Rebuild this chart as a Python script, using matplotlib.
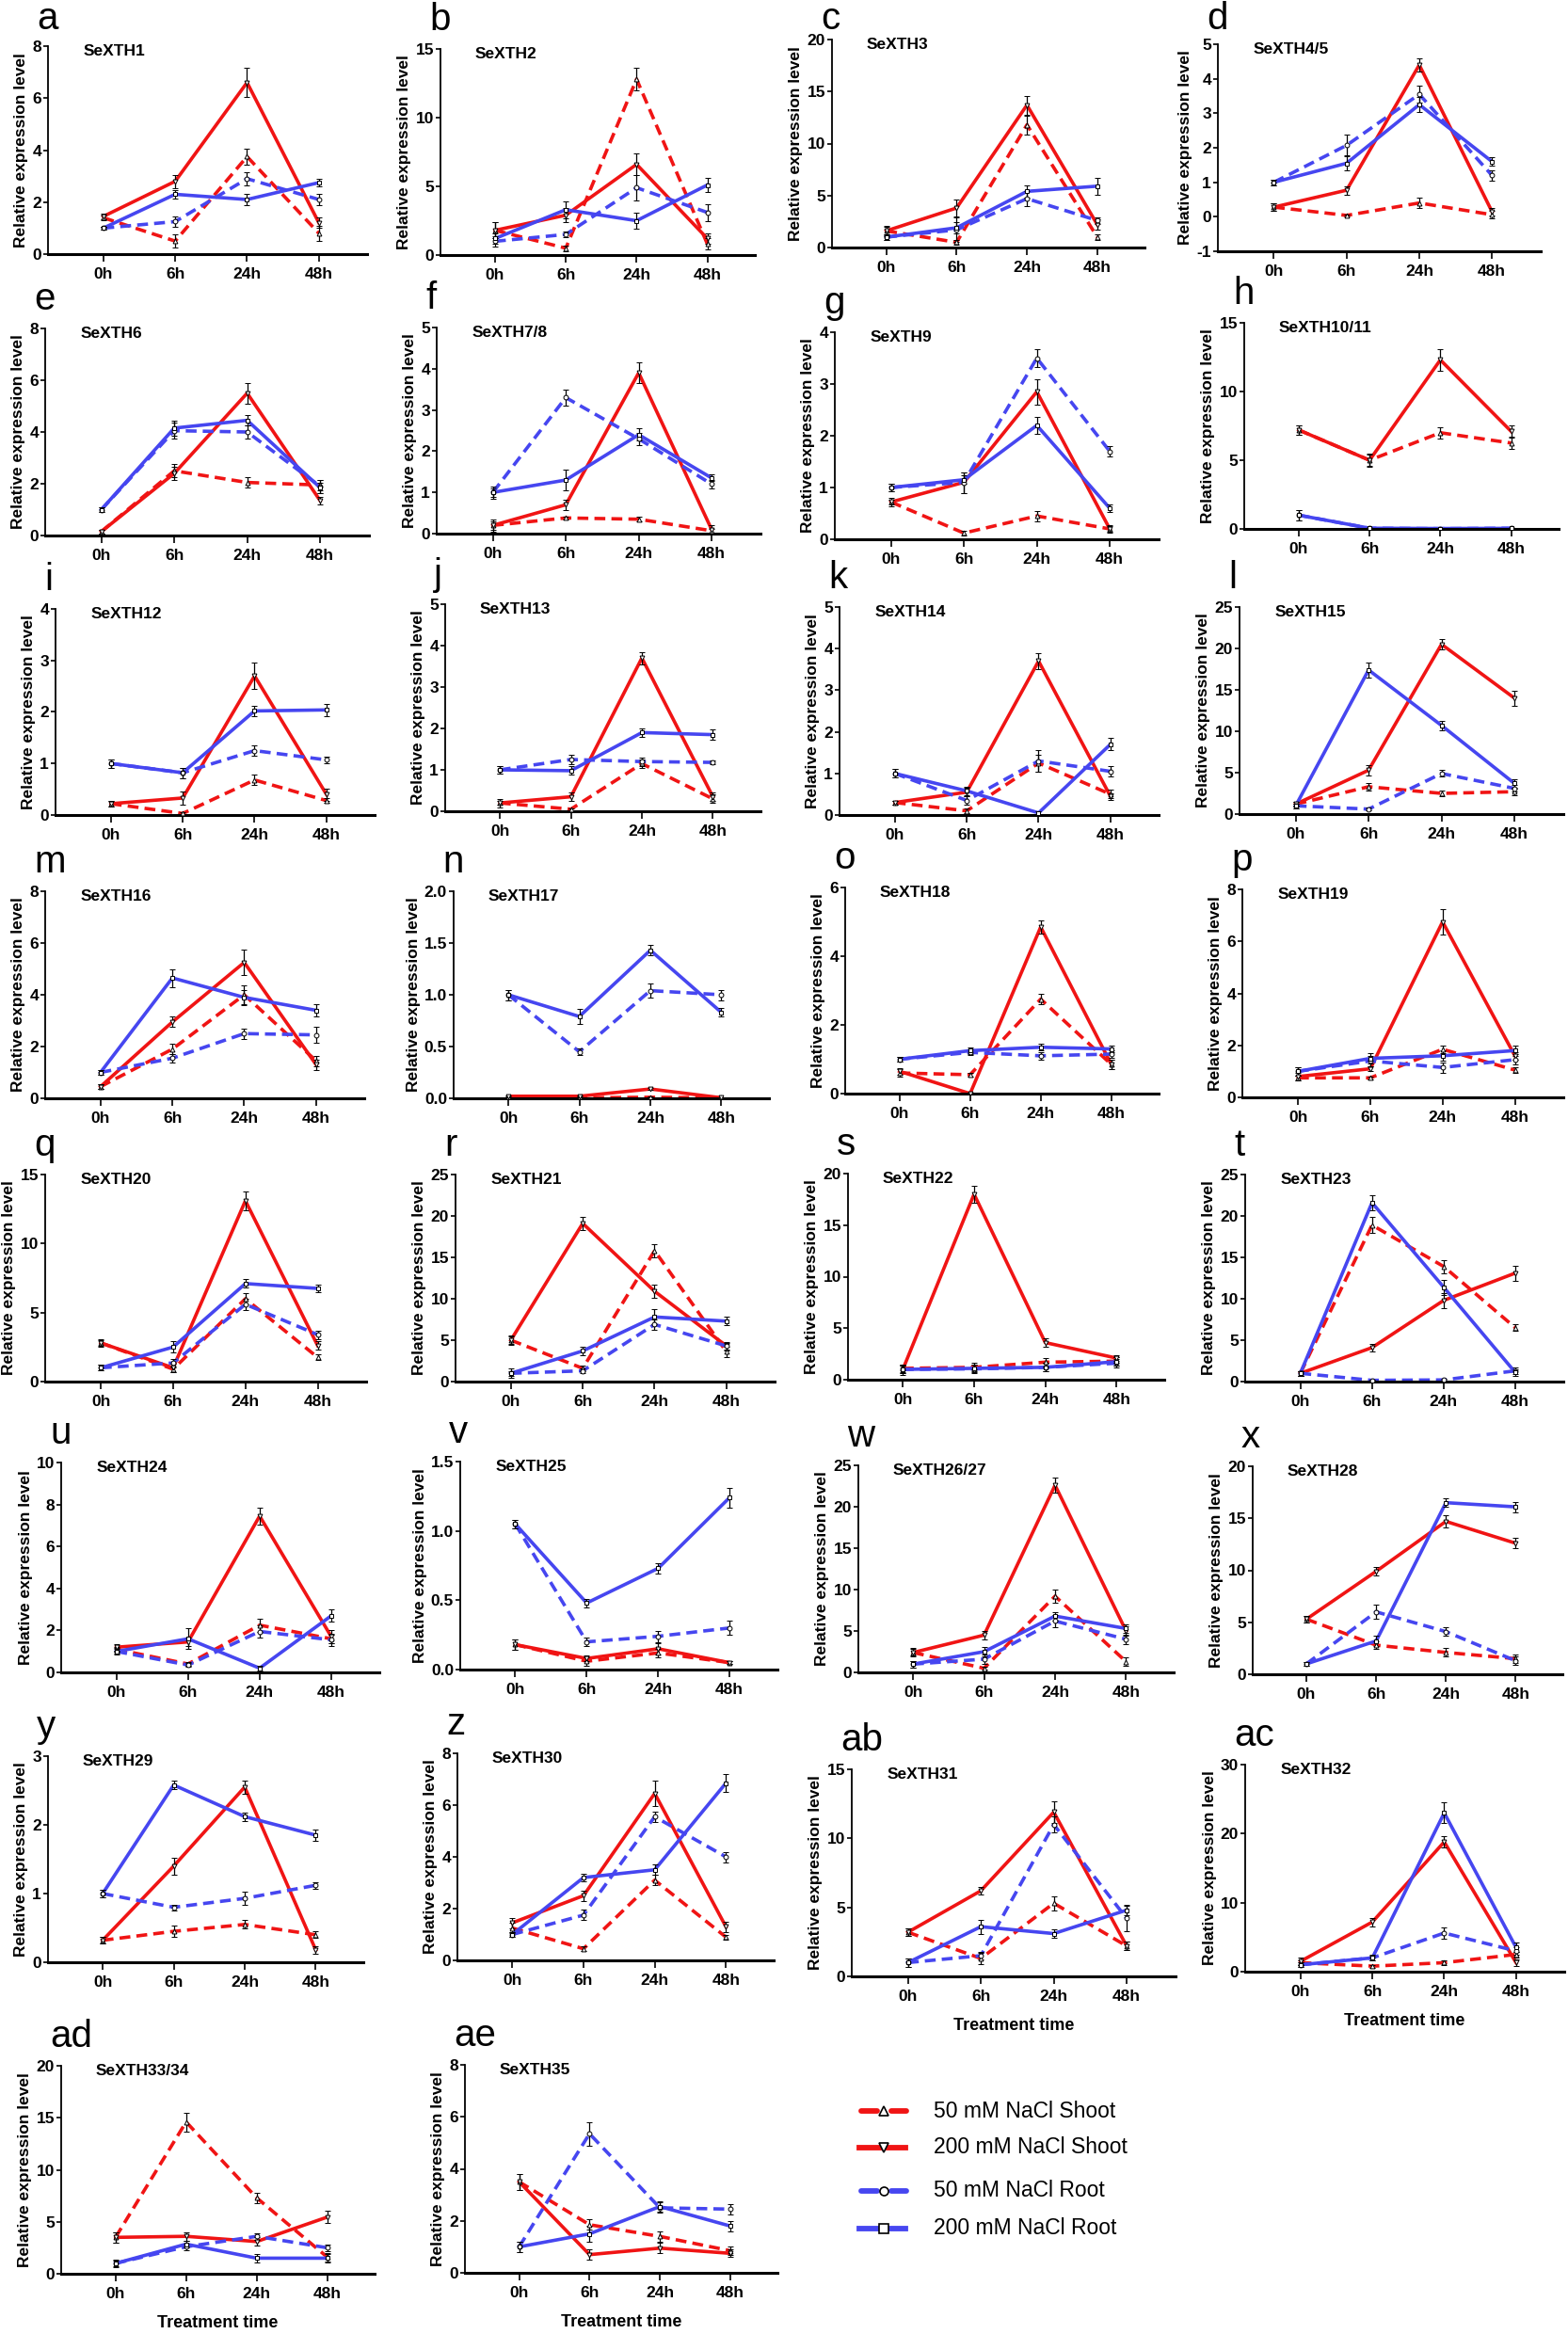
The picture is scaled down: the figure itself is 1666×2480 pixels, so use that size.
import matplotlib
matplotlib.use('Agg')
import matplotlib.pyplot as plt
from matplotlib.lines import Line2D
from matplotlib.ticker import FormatStrFormatter
import numpy as np

plt.rcParams['font.family'] = ['Liberation Sans', 'DejaVu Sans']

# ---- data ----
times = ['0h', '6h', '24h', '48h']
letters = list('abcdefghijklmnopqrstuvwxyz') + ['ab', 'ac', 'ad', 'ae']
genes = ['SeXTH1', 'SeXTH2', 'SeXTH3', 'SeXTH4/5', 'SeXTH6', 'SeXTH7/8', 'SeXTH9',
         'SeXTH10/11', 'SeXTH12', 'SeXTH13', 'SeXTH14', 'SeXTH15', 'SeXTH16',
         'SeXTH17', 'SeXTH18', 'SeXTH19', 'SeXTH20', 'SeXTH21', 'SeXTH22',
         'SeXTH23', 'SeXTH24', 'SeXTH25', 'SeXTH26/27', 'SeXTH28', 'SeXTH29',
         'SeXTH30', 'SeXTH31', 'SeXTH32', 'SeXTH33/34', 'SeXTH35']
y_min = [0, 0, 0, -1, 0, 0, 0, 0, 0, 0, 0, 0, 0, 0, 0, 0, 0, 0, 0, 0, 0, 0, 0, 0, 0, 0, 0, 0, 0, 0]
y_max = [8, 15, 20, 5, 8, 5, 4, 15, 4, 5, 5, 25, 8, 2, 6, 8, 15, 25, 20, 25,
         10, 1.5, 25, 20, 3, 8, 15, 30, 20, 8]
y_step = [2, 5, 5, 1, 2, 1, 1, 5, 1, 1, 1, 5, 2, 0.5, 2, 2, 5, 5, 5, 5,
          2, 0.5, 5, 5, 1, 2, 5, 10, 5, 2]

# 50 mM NaCl Shoot
s50 = [[1.4, 0.5, 3.75, 0.8], [1.8, 0.5, 12.8, 0.8], [1.6, 0.5, 11.8, 1.0],
       [0.28, 0.04, 0.4, 0.06], [0.15, 2.5, 2.05, 1.95], [0.2, 0.38, 0.35, 0.07],
       [0.72, 0.12, 0.45, 0.2], [7.2, 5.0, 7.0, 6.25], [0.22, 0.03, 0.68, 0.28],
       [0.2, 0.05, 1.15, 0.3], [0.3, 0.1, 1.25, 0.5], [1.2, 3.3, 2.5, 2.7],
       [0.45, 1.9, 4.0, 1.45], [0.005, 0.005, 0.01, 0.005], [0.6, 0.55, 2.75, 0.85],
       [0.75, 0.75, 1.85, 1.05], [2.8, 0.9, 6.0, 1.75], [5.0, 1.6, 15.8, 3.6],
       [1.1, 1.2, 1.7, 1.8], [1.0, 18.9, 13.9, 6.5], [1.1, 0.4, 2.25, 1.6],
       [0.18, 0.06, 0.12, 0.05], [2.4, 0.5, 9.2, 1.3], [5.3, 2.8, 2.1, 1.5],
       [0.32, 0.45, 0.55, 0.4], [1.25, 0.45, 3.1, 0.9], [3.2, 1.3, 5.3, 2.2],
       [1.3, 0.8, 1.3, 2.5], [3.5, 14.6, 7.3, 1.6], [3.5, 1.85, 1.4, 0.85]]
s50_err = [[0.1, 0.25, 0.3, 0.3], [0.6, 0.2, 0.8, 0.4], [0.4, 0.2, 0.9, 0.3],
           [0.1, 0.03, 0.15, 0.1], [0.08, 0.25, 0.2, 0.2], [0.1, 0.03, 0.05, 0.05],
           [0.05, 0.05, 0.1, 0.05], [0.35, 0.4, 0.4, 0.45], [0.05, 0.03, 0.1, 0.05],
           [0.05, 0.02, 0.1, 0.1], [0.05, 0.05, 0.2, 0.1], [0.3, 0.5, 0.3, 0.4],
           [0.1, 0.2, 0.35, 0.2], [0.003, 0.003, 0.005, 0.003], [0.1, 0.05, 0.15, 0.15],
           [0.1, 0.05, 0.15, 0.1], [0.2, 0.2, 0.4, 0.2], [0.5, 0.3, 0.8, 0.6],
           [0.4, 0.4, 0.4, 0.4], [0.3, 1.0, 0.8, 0.4], [0.1, 0.1, 0.3, 0.2],
           [0.04, 0.03, 0.03, 0.01], [0.4, 0.2, 0.8, 0.5], [0.3, 0.4, 0.4, 0.4],
           [0.05, 0.08, 0.06, 0.05], [0.2, 0.1, 0.2, 0.1], [0.3, 0.4, 0.5, 0.3],
           [0.3, 0.2, 0.4, 0.4], [0.5, 0.9, 0.5, 0.4], [0.3, 0.2, 0.2, 0.15]]

# 200 mM NaCl Shoot
s200 = [[1.45, 2.8, 6.6, 1.2], [1.8, 2.9, 6.6, 1.2], [1.6, 3.8, 13.7, 2.2],
        [0.28, 0.77, 4.4, 0.15], [0.15, 2.4, 5.5, 1.35], [0.2, 0.7, 3.9, 0.1],
        [0.72, 1.1, 2.85, 0.2], [7.2, 5.0, 12.3, 7.1], [0.22, 0.33, 2.7, 0.4],
        [0.2, 0.35, 3.7, 0.35], [0.3, 0.55, 3.7, 0.45], [1.2, 5.3, 20.5, 14.0],
        [0.45, 2.95, 5.25, 1.3], [0.02, 0.02, 0.09, 0.005], [0.65, 0.0, 4.85, 0.85],
        [0.8, 1.1, 6.75, 1.6], [2.8, 1.0, 13.1, 2.6], [5.0, 19.1, 10.9, 4.3],
        [1.0, 18.0, 3.6, 2.1], [1.0, 4.1, 9.8, 13.1], [1.2, 1.45, 7.45, 1.7],
        [0.18, 0.08, 0.15, 0.05], [2.4, 4.5, 22.6, 5.0], [5.3, 9.9, 14.7, 12.6],
        [0.32, 1.4, 2.55, 0.18], [1.45, 2.5, 6.45, 1.3], [3.2, 6.2, 11.9, 2.2],
        [1.5, 7.2, 18.8, 1.3], [3.5, 3.6, 3.1, 5.45], [3.5, 0.7, 0.95, 0.75]]
s200_err = [[0.1, 0.25, 0.55, 0.2], [0.6, 0.5, 0.8, 0.4], [0.5, 0.8, 0.9, 0.5],
            [0.1, 0.12, 0.18, 0.1], [0.08, 0.25, 0.4, 0.15], [0.15, 0.12, 0.25, 0.1],
            [0.08, 0.2, 0.25, 0.08], [0.35, 0.45, 0.8, 0.45], [0.05, 0.12, 0.25, 0.12],
            [0.1, 0.1, 0.15, 0.1], [0.05, 0.1, 0.2, 0.08], [0.3, 0.6, 0.6, 0.9],
            [0.1, 0.2, 0.5, 0.2], [0.005, 0.005, 0.01, 0.005], [0.1, 0.02, 0.2, 0.15],
            [0.15, 0.1, 0.5, 0.15], [0.3, 0.3, 0.7, 0.3], [0.6, 0.8, 0.8, 0.5],
            [0.5, 0.8, 0.4, 0.3], [0.3, 0.5, 0.9, 0.9], [0.15, 0.2, 0.4, 0.3],
            [0.04, 0.02, 0.04, 0.01], [0.5, 0.5, 0.9, 0.6], [0.3, 0.4, 0.6, 0.5],
            [0.05, 0.12, 0.1, 0.05], [0.2, 0.2, 0.5, 0.2], [0.3, 0.3, 0.8, 0.3],
            [0.5, 0.6, 0.8, 0.5], [0.5, 0.4, 0.4, 0.6], [0.3, 0.2, 0.2, 0.15]]

# 50 mM NaCl Root
r50 = [[1.0, 1.25, 2.9, 2.1], [1.0, 1.5, 4.9, 3.1], [1.0, 1.7, 4.7, 2.6],
       [1.0, 2.07, 3.55, 1.2], [1.0, 4.05, 4.0, 1.9], [1.0, 3.3, 2.3, 1.2],
       [1.0, 1.1, 3.5, 1.7], [1.0, 0.05, 0.02, 0.05], [1.0, 0.82, 1.25, 1.07],
       [1.0, 1.25, 1.2, 1.18], [1.0, 0.35, 1.3, 1.05], [1.0, 0.6, 4.9, 3.1],
       [1.0, 1.55, 2.5, 2.45], [1.0, 0.45, 1.04, 1.0], [1.0, 1.2, 1.1, 1.15],
       [1.0, 1.4, 1.15, 1.45], [1.0, 1.35, 5.6, 3.4], [1.0, 1.3, 6.9, 4.3],
       [1.0, 1.05, 1.2, 1.6], [1.0, 0.15, 0.2, 1.3], [1.0, 0.35, 1.95, 1.55],
       [1.05, 0.2, 0.24, 0.3], [1.0, 1.6, 6.2, 4.0], [1.0, 6.0, 4.1, 1.3],
       [1.0, 0.8, 0.93, 1.12], [1.0, 1.75, 5.55, 4.0], [1.0, 1.5, 11.0, 4.2],
       [1.0, 2.0, 5.6, 3.0], [1.0, 2.6, 3.6, 2.5], [1.0, 5.35, 2.5, 2.45]]
r50_err = [[0.05, 0.2, 0.25, 0.2], [0.4, 0.2, 0.9, 0.6], [0.3, 1.2, 0.7, 0.3],
           [0.08, 0.3, 0.25, 0.15], [0.08, 0.3, 0.25, 0.25], [0.1, 0.2, 0.15, 0.1],
           [0.08, 0.2, 0.18, 0.1], [0.35, 0.05, 0.05, 0.05], [0.08, 0.1, 0.1, 0.06],
           [0.1, 0.12, 0.1, 0.05], [0.1, 0.1, 0.25, 0.12], [0.3, 0.2, 0.4, 0.4],
           [0.1, 0.15, 0.2, 0.3], [0.05, 0.03, 0.07, 0.05], [0.08, 0.08, 0.1, 0.1],
           [0.15, 0.2, 0.2, 0.2], [0.2, 0.3, 0.4, 0.3], [0.3, 0.3, 0.6, 0.4],
           [0.4, 0.4, 0.4, 0.4], [0.3, 0.1, 0.1, 0.4], [0.1, 0.1, 0.3, 0.3],
           [0.03, 0.03, 0.04, 0.05], [0.4, 0.6, 0.7, 0.6], [0.2, 0.7, 0.4, 0.4],
           [0.05, 0.04, 0.1, 0.05], [0.1, 0.2, 0.2, 0.2], [0.3, 0.3, 0.6, 0.9],
           [0.3, 0.3, 0.8, 0.5], [0.3, 0.3, 0.3, 0.3], [0.2, 0.45, 0.2, 0.2]]

# 200 mM NaCl Root
r200 = [[1.0, 2.3, 2.1, 2.75], [1.2, 3.3, 2.5, 5.1], [1.0, 1.9, 5.4, 5.9],
        [1.0, 1.55, 3.25, 1.6], [1.0, 4.15, 4.45, 1.85], [1.0, 1.3, 2.4, 1.35],
        [1.0, 1.15, 2.2, 0.6], [1.0, 0.05, 0.03, 0.04], [1.0, 0.82, 2.02, 2.04],
        [1.0, 0.98, 1.9, 1.85], [1.0, 0.58, 0.05, 1.7], [1.0, 17.4, 10.7, 3.7],
        [1.0, 4.65, 3.9, 3.4], [1.0, 0.79, 1.43, 0.83], [1.0, 1.25, 1.35, 1.3],
        [1.0, 1.5, 1.6, 1.8], [1.0, 2.5, 7.1, 6.75], [1.0, 3.7, 7.8, 7.3],
        [1.0, 1.1, 1.2, 1.75], [1.0, 21.6, 11.4, 1.1], [1.0, 1.6, 0.2, 2.7],
        [1.05, 0.48, 0.73, 1.24], [1.0, 2.5, 6.8, 5.3], [1.0, 3.2, 16.5, 16.1],
        [1.0, 2.58, 2.12, 1.85], [1.0, 3.2, 3.5, 6.85], [1.0, 3.6, 3.1, 4.8],
        [1.0, 2.0, 23.0, 3.5], [1.0, 2.85, 1.5, 1.5], [1.0, 1.5, 2.55, 1.8]]
r200_err = [[0.05, 0.15, 0.2, 0.15], [0.4, 0.6, 0.6, 0.5], [0.3, 0.5, 0.6, 0.8],
            [0.08, 0.2, 0.22, 0.12], [0.08, 0.3, 0.2, 0.2], [0.15, 0.25, 0.15, 0.08],
            [0.08, 0.08, 0.17, 0.08], [0.35, 0.05, 0.05, 0.05], [0.08, 0.1, 0.1, 0.12],
            [0.1, 0.1, 0.1, 0.12], [0.1, 0.1, 0.05, 0.15], [0.3, 0.9, 0.6, 0.5],
            [0.1, 0.35, 0.3, 0.25], [0.05, 0.07, 0.05, 0.04], [0.08, 0.1, 0.1, 0.1],
            [0.15, 0.2, 0.2, 0.2], [0.2, 0.4, 0.3, 0.3], [0.6, 0.5, 0.9, 0.5],
            [0.4, 0.4, 0.4, 0.4], [0.3, 0.9, 0.9, 0.4], [0.15, 0.5, 0.1, 0.3],
            [0.03, 0.03, 0.04, 0.07], [0.4, 0.6, 0.5, 0.5], [0.2, 0.5, 0.4, 0.5],
            [0.05, 0.06, 0.06, 0.08], [0.1, 0.15, 0.2, 0.35], [0.3, 0.5, 0.3, 0.4],
            [0.3, 0.4, 1.5, 0.7], [0.4, 0.3, 0.4, 0.4], [0.2, 0.3, 0.2, 0.2]]

series_labels = ['50 mM NaCl Shoot', '200 mM NaCl Shoot', '50 mM NaCl Root', '200 mM NaCl Root']

# ---- layout (pixel boxes: left, right, top, bottom) ----
W, H = 1666, 2480
panel_boxes = [
    (51, 390, 49, 270), (468, 802, 52, 271), (884, 1216, 42, 263), (1294, 1637, 47, 267),
    (48, 392, 349, 569), (464, 808, 348, 567), (887, 1231, 353, 573), (1322, 1656, 343, 562),
    (59, 398, 647, 866), (473, 808, 642, 862), (892, 1231, 645, 866), (1317, 1661, 645, 865),
    (48, 387, 947, 1167), (482, 817, 947, 1167), (898, 1231, 943, 1162), (1320, 1661, 945, 1166),
    (48, 389, 1248, 1468), (484, 823, 1248, 1468), (901, 1237, 1247, 1466), (1323, 1661, 1248, 1468),
    (65, 403, 1554, 1777), (489, 826, 1553, 1774), (912, 1247, 1557, 1777), (1331, 1660, 1558, 1779),
    (51, 386, 1866, 2085), (486, 822, 1863, 2083), (905, 1249, 1880, 2100), (1323, 1662, 1875, 2095),
    (65, 398, 2195, 2416), (494, 826, 2194, 2415),
]
with_xlabel = {'ab', 'ac', 'ad', 'ae'}

RED = '#f01414'
BLUE = '#4646f0'
styles = [
    dict(color=RED, ls=(0, (3.2, 1.8)), marker='^'),
    dict(color=RED, ls='-', marker='v'),
    dict(color=BLUE, ls=(0, (3.2, 1.8)), marker='o'),
    dict(color=BLUE, ls='-', marker='s'),
]

fig = plt.figure(figsize=(W / 100, H / 100), dpi=100)
x = np.arange(len(times))

for i, gene in enumerate(genes):
    L, R, T, B = panel_boxes[i]
    ax = fig.add_axes([L / W, 1 - B / H, (R - L) / W, (B - T) / H])
    data = [(s50[i], s50_err[i]), (s200[i], s200_err[i]),
            (r50[i], r50_err[i]), (r200[i], r200_err[i])]
    for (vals, errs), st in zip(data, styles):
        ax.plot(x, vals, color=st['color'], ls=st['ls'], lw=2.6, zorder=2)
        ax.errorbar(x, vals, yerr=errs, fmt=st['marker'], ms=3.5, mfc='white',
                    mec='black', mew=0.7, ecolor='black', elinewidth=0.9,
                    capsize=2.0, capthick=0.9, zorder=3)
    ax.set_xlim(-0.77, 3.67)
    ax.set_ylim(y_min[i], y_max[i])
    ax.set_yticks(np.arange(y_min[i], y_max[i] + y_step[i] / 2, y_step[i]))
    if y_step[i] < 1:
        ax.yaxis.set_major_formatter(FormatStrFormatter('%.1f'))
    else:
        ax.yaxis.set_major_formatter(FormatStrFormatter('%d'))
    ax.set_xticks(x)
    ax.set_xticklabels(times)
    for sp in ['top', 'right']:
        ax.spines[sp].set_visible(False)
    ax.spines['left'].set_linewidth(1.3)
    ax.spines['bottom'].set_linewidth(2.2)
    ax.tick_params(axis='x', length=6, width=1.2, pad=4, labelsize=12.5)
    ax.tick_params(axis='y', length=3.5, width=1.2, pad=1.5, labelsize=12.5)
    for lab in ax.get_xticklabels() + ax.get_yticklabels():
        lab.set_fontweight('bold')
    ax.set_ylabel('Relative expression level', fontsize=12.5, fontweight='bold', labelpad=3)
    ax.text(0.11, 1.01, gene, transform=ax.transAxes, fontsize=12.5, fontweight='bold',
            ha='left', va='top')
    if letters[i] in with_xlabel:
        ax.set_xlabel('Treatment time', fontsize=13, fontweight='bold', labelpad=11)
    base = max(T - 20, 31)
    fig.text((L - 12) / W, 1 - base / H, letters[i], fontsize=29,
             ha='left', va='baseline')

# ---- legend ----
legend_rows = [2243, 2282, 2328, 2368]
for j, (lab, st) in enumerate(zip(series_labels, styles)):
    yy = 1 - legend_rows[j] / H
    if st['ls'] == '-':
        fig.add_artist(Line2D([913 / W, 962 / W], [yy, yy], color=st['color'], lw=4.2,
                              transform=fig.transFigure))
    else:
        for xa, xb in [(915, 932), (947, 963)]:
            fig.add_artist(Line2D([xa / W, xb / W], [yy, yy], color=st['color'], lw=4.2,
                                  solid_capstyle='round', transform=fig.transFigure))
    fig.add_artist(Line2D([939 / W], [yy], marker=st['marker'], ms=6.5, mfc='white',
                          mec='black', mew=1.2, ls='none', transform=fig.transFigure))
    fig.text(992 / W, yy, lab, fontsize=16.5, ha='left', va='center')

fig.savefig('out.png', dpi=100)
